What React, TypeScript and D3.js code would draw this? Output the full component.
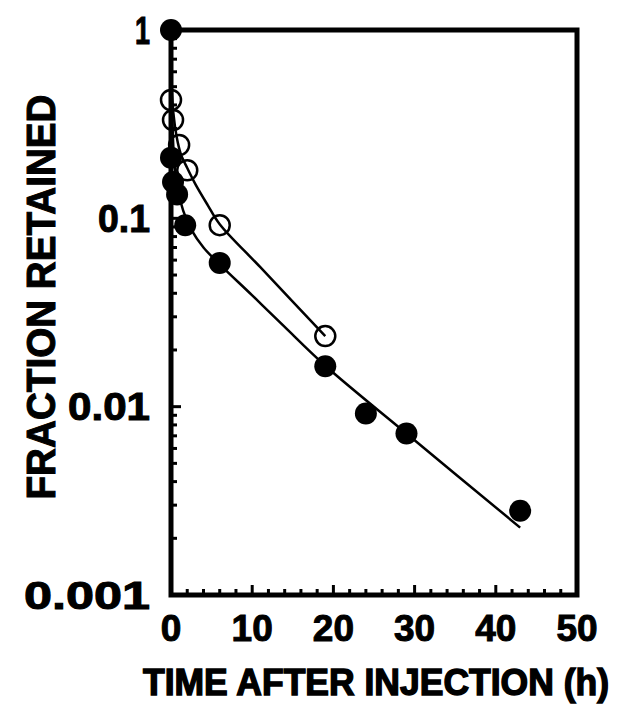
import React, { useEffect, useRef } from 'react'
import * as d3 from 'd3'

type Pt = { t: number, f: number }

// measured points, closed circles
const closedTime = [0, 0, 0.25, 0.75, 1.75, 6, 19, 24, 29, 43]
const closedFrac = [1, 0.21, 0.156, 0.134, 0.092, 0.058, 0.0164, 0.0092, 0.0072, 0.0028]

// measured points, open circles
const openTime = [0, 0.25, 1, 2, 6, 19]
const openFrac = [0.425, 0.333, 0.245, 0.18, 0.092, 0.0237]

// fitted curves
const closedFitTime = [0, 0.15, 0.4, 0.8, 1.5, 2.5, 4, 6, 10, 14, 19, 29, 43]
const closedFitFrac = [1, 0.35, 0.2, 0.145, 0.11, 0.087, 0.07, 0.057, 0.039, 0.0265, 0.0165, 0.0072, 0.00228]

const openFitTime = [0, 0.1, 0.3, 0.7, 1.2, 2, 3, 4.5, 6, 11, 19]
const openFitFrac = [1, 0.5, 0.36, 0.27, 0.22, 0.185, 0.152, 0.118, 0.093, 0.055, 0.0237]

const xTicks = [0, 10, 20, 30, 40, 50]
const yTicks = [1, 0.1, 0.01, 0.001]
const yTickLabels = ['1', '0.1', '0.01', '0.001']
const yLabelWidth = [15, 52, 82, 126]

const zip = (ts: number[], fs: number[]): Pt[] => ts.map((t, i) => ({ t, f: fs[i] }))

export default function App() {
    const ref = useRef<SVGSVGElement>(null)

    useEffect(() => {
        const svg = d3.select(ref.current!)
        svg.selectAll('*').remove()

        const x = d3.scaleLinear().domain([0, 50]).range([171, 577])
        const y = d3.scaleLog().domain([0.001, 1]).range([595, 30])
        const font = "'Liberation Sans', Arial, sans-serif"

        // inward ticks on bottom axis
        const g = svg.append('g')
        d3.range(2, 50, 2).forEach(t => {
            const major = t % 10 === 0
            g.append('line')
                .attr('x1', x(t)).attr('x2', x(t))
                .attr('y1', y(0.001)).attr('y2', y(0.001) - (major ? 10 : 6))
                .attr('stroke', '#000').attr('stroke-width', 3)
        })

        // inward log ticks on left axis
        const minor: number[] = []
        ;[0.001, 0.01, 0.1].forEach(d => {
            for (let k = 2; k <= 9; k++) minor.push(d * k)
        })
        minor.forEach(v => {
            g.append('line')
                .attr('x1', x(0)).attr('x2', x(0) + 6)
                .attr('y1', y(v)).attr('y2', y(v))
                .attr('stroke', '#000').attr('stroke-width', 3)
        })
        ;[0.1, 0.01].forEach(v => {
            g.append('line')
                .attr('x1', x(0)).attr('x2', x(0) + 10)
                .attr('y1', y(v)).attr('y2', y(v))
                .attr('stroke', '#000').attr('stroke-width', 3)
        })

        // frame
        svg.append('rect')
            .attr('x', x(0)).attr('y', y(1))
            .attr('width', x(50) - x(0)).attr('height', y(0.001) - y(1))
            .attr('fill', 'none').attr('stroke', '#000').attr('stroke-width', 5)

        // fitted curves
        const line = d3.line<Pt>()
            .x(d => x(d.t))
            .y(d => y(d.f))
            .curve(d3.curveCatmullRom.alpha(0.5))

        svg.append('path')
            .datum(zip(closedFitTime, closedFitFrac))
            .attr('fill', 'none').attr('stroke', '#000').attr('stroke-width', 2.5)
            .attr('d', line)

        svg.append('path')
            .datum(zip(openFitTime, openFitFrac))
            .attr('fill', 'none').attr('stroke', '#000').attr('stroke-width', 2.5)
            .attr('d', line)

        // points
        svg.append('g').selectAll('circle')
            .data(zip(openTime, openFrac))
            .join('circle')
            .attr('cx', d => x(d.t)).attr('cy', d => y(d.f)).attr('r', 10)
            .attr('fill', 'none').attr('stroke', '#000').attr('stroke-width', 2.5)

        svg.append('g').selectAll('circle')
            .data(zip(closedTime, closedFrac))
            .join('circle')
            .attr('cx', d => x(d.t)).attr('cy', d => y(d.f)).attr('r', 11)
            .attr('fill', '#000')

        // tick labels
        svg.append('g').selectAll('text')
            .data(xTicks)
            .join('text')
            .attr('x', d => x(d)).attr('y', 641)
            .attr('text-anchor', 'middle')
            .attr('font-family', font).attr('font-weight', 'bold').attr('font-size', 37)
            .attr('stroke', '#000').attr('stroke-width', 1)
            .text(d => d)

        svg.append('g').selectAll('text')
            .data(yTicks)
            .join('text')
            .attr('x', (d, i) => 150 - yLabelWidth[i]).attr('y', d => y(d))
            .attr('dy', '0.36em')
            .attr('textLength', (d, i) => yLabelWidth[i]).attr('lengthAdjust', 'spacingAndGlyphs')
            .attr('font-family', font).attr('font-weight', 'bold').attr('font-size', 38)
            .attr('stroke', '#000').attr('stroke-width', 1)
            .text((d, i) => yTickLabels[i])

        // axis titles
        svg.append('text')
            .attr('x', 143).attr('y', 695)
            .attr('textLength', 466).attr('lengthAdjust', 'spacingAndGlyphs')
            .attr('font-family', font).attr('font-weight', 'bold').attr('font-size', 36)
            .attr('stroke', '#000').attr('stroke-width', 1.4)
            .text('TIME AFTER INJECTION (h)')

        svg.append('text')
            .attr('transform', 'translate(55,297) rotate(-90)')
            .attr('text-anchor', 'middle')
            .attr('textLength', 405).attr('lengthAdjust', 'spacingAndGlyphs')
            .attr('font-family', font).attr('font-weight', 'bold').attr('font-size', 40)
            .attr('stroke', '#000').attr('stroke-width', 1)
            .text('FRACTION RETAINED')
    }, [])

    return (
        <div>
            <svg ref={ref} width={624} height={713}
                style={{ position: 'absolute', left: 0, top: 0, background: '#fff' }}></svg>
        </div>
    )
}
